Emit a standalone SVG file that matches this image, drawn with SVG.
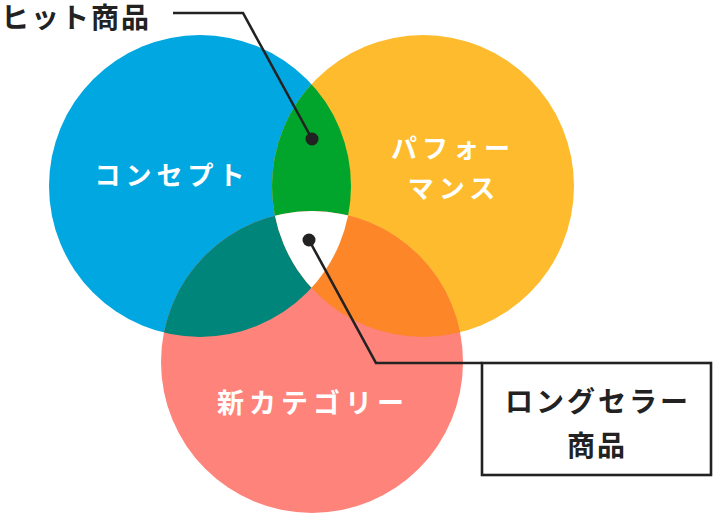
<svg xmlns="http://www.w3.org/2000/svg" width="714" height="514" viewBox="0 0 714 514">
<style>
.lbl{font-family:"Noto Sans CJK JP","Noto Sans",sans-serif;font-weight:700;font-size:26px;fill:#fff;text-anchor:middle;letter-spacing:5px}
.dk{font-family:"Noto Sans CJK JP","Noto Sans",sans-serif;font-weight:700;font-size:28px;fill:#222;letter-spacing:2px}
.lead{fill:none;stroke:#222;stroke-width:2.6;stroke-linejoin:miter}
</style>
<defs>
<clipPath id="cBlue"><circle cx="200" cy="186" r="151"/></clipPath>
<clipPath id="cOrange"><circle cx="423" cy="186" r="151"/></clipPath>
</defs>
<g id="concept"><circle cx="200" cy="186" r="151" fill="#00a7e1"/></g>
<g id="performance"><circle cx="423" cy="186" r="151" fill="#fdbb2d"/></g>
<g id="newcategory"><circle cx="312" cy="362" r="151" fill="#fe837b"/></g>
<g id="overlaps">
<circle cx="423" cy="186" r="151" fill="#01a52b" clip-path="url(#cBlue)"/>
<circle cx="312" cy="362" r="151" fill="#00857a" clip-path="url(#cBlue)"/>
<circle cx="312" cy="362" r="151" fill="#fd8628" clip-path="url(#cOrange)"/>
<g clip-path="url(#cBlue)"><circle cx="312" cy="362" r="151" fill="#fff" clip-path="url(#cOrange)"/></g>
</g>
<g id="labels">
<text class="lbl" x="172" y="185">コンセプト</text>
<text class="lbl" x="453" y="158">パフォー</text>
<text class="lbl" x="454" y="198">マンス</text>
<text class="lbl" x="313" y="413" style="font-size:27px">新カテゴリー</text>
</g>
<g id="connectors">
<polyline class="lead" points="173,13 243,13 312,139"/>
<circle cx="312" cy="139" r="6.5" fill="#222"/>
<polyline class="lead" points="309,240 376,363 482,363"/>
<circle cx="309" cy="240" r="6.5" fill="#222"/>
</g>
<g id="hit">
<text class="dk" x="1" y="28">ヒット商品</text>
</g>
<g id="longseller">
<rect x="482" y="363" width="229" height="112" fill="#fff" stroke="#222" stroke-width="2.6"/>
<text class="dk" x="598" y="412" text-anchor="middle" style="letter-spacing:3px">ロングセラー</text>
<text class="dk" x="597" y="456" text-anchor="middle">商品</text>
</g>
</svg>
